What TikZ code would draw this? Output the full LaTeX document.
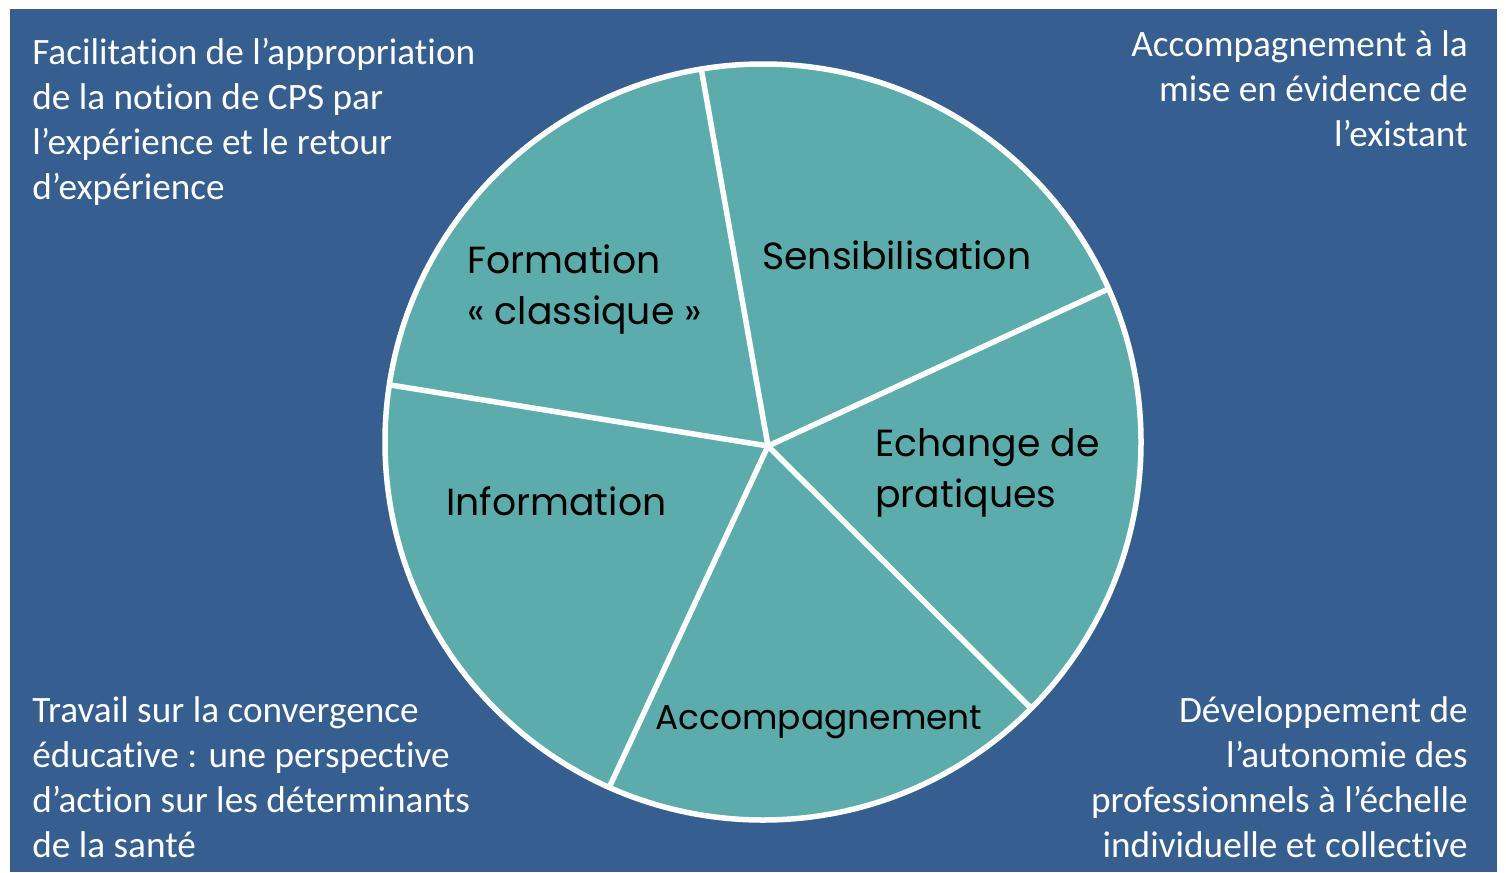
\documentclass[tikz,border=0pt]{standalone}
\usepackage{fontspec}
\setmainfont{Carlito}[Ligatures=CommonOff]
\newfontfamily\gothicfont{Poppins}
\usepackage{tikz}
\usetikzlibrary{calc}
\definecolor{bgblue}{HTML}{365E8F}
\definecolor{pieteal}{HTML}{5BACAA}
\tikzset{
note/.style = {inner sep=0pt, text=white, font=\fontsize{21.2}{25.5}\selectfont},
slice/.style = {inner sep=0pt, text=black, font=\gothicfont\fontsize{#1}{29}\selectfont},
slice/.default = 21.5,
rim/.style = {draw=white, line width=0.11cm},
}

\begin{document}
\begin{tikzpicture}[x=0.02cm, y=-0.02cm]
    \useasboundingbox (0,0) rectangle (1506,872);
    \fill[bgblue] (10,9) rectangle (1497,872);

    % the pie
    \coordinate (ctr) at (763,442);
    \coordinate (hub) at (768,446);
    \fill[pieteal] (ctr) circle (378);
    \coordinate (rimTop) at ($(ctr)+(260.6:378)$);
    \coordinate (rimRight) at ($(ctr)+(-23.9:378)$);
    \coordinate (rimLow) at ($(ctr)+(44.8:378)$);
    \coordinate (rimBottom) at ($(ctr)+(114:378)$);
    \coordinate (rimLeft) at ($(ctr)+(188.7:378)$);
    \foreach \r in {rimTop,rimRight,rimLow,rimBottom,rimLeft}
        \draw[rim] (hub) -- (\r);
    \draw[rim] (ctr) circle (378);

    % slice labels (base = last line)
    \node[slice, anchor=base west, align=left] (formation) at (467,324) {Formation\\« classique »};
    \node[slice, anchor=base west] (sensib) at (762,269) {Sensibilisation};
    \node[slice, anchor=base west, align=left] (echange) at (875,507) {Echange de\\pratiques};
    \node[slice, anchor=base west] (info) at (446,515) {Information};
    \node[slice=19.6, anchor=base west] (accomp) at (655,729) {Accompagnement};

    % corner notes
    \node[note, anchor=base west, align=left] (noteTL) at (32,199)
        {Facilitation de l’appropriation\\de la notion de CPS par\\l’expérience et le retour\\d’expérience};
    \node[note, anchor=base east, align=right] (noteTR) at (1468,146)
        {Accompagnement à la\\mise en évidence de\\l’existant};
    \node[note, anchor=base west, align=left] (noteBL) at (32,857)
        {Travail sur la convergence\\éducative : une perspective\\d’action sur les déterminants\\de la santé};
    \node[note, anchor=base east, align=right] (noteBR) at (1468,857)
        {Développement de\\l’autonomie des\\professionnels à l’échelle\\individuelle et collective};
\end{tikzpicture}
\end{document}
